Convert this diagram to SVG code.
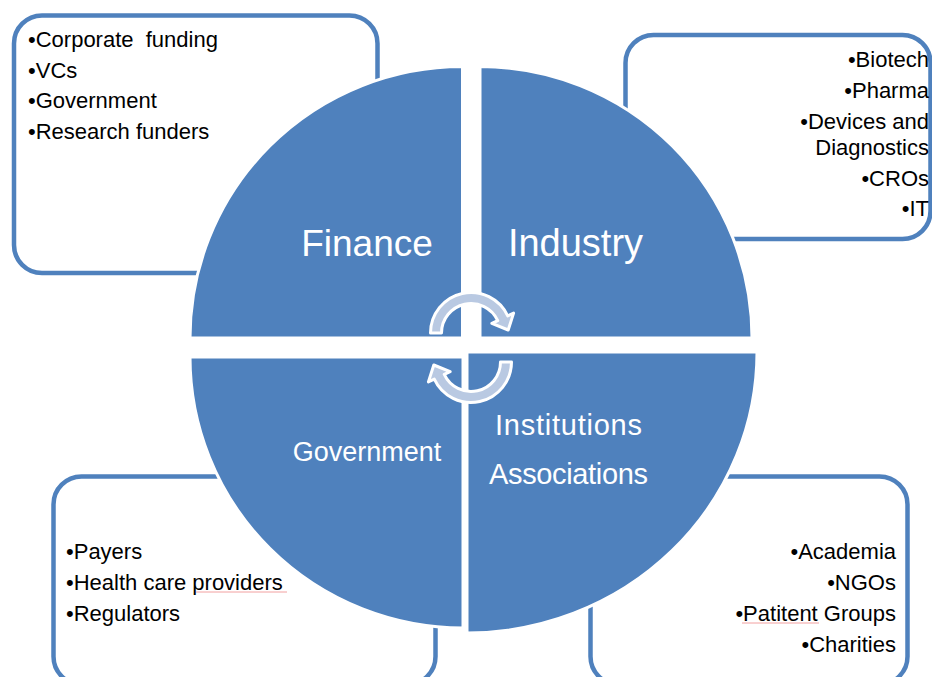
<svg xmlns="http://www.w3.org/2000/svg" width="932" height="677" viewBox="0 0 932 677">
<style>
  .box { fill: #ffffff; stroke: #4f81bd; stroke-width: 4.5; }
  .quad { fill: #4f81bd; stroke: #ffffff; stroke-width: 3; }
  .item { font-family: "Liberation Sans", Arial, sans-serif; font-size: 22px; fill: #000000; }
  .end { text-anchor: end; }
  .lbl { font-family: "Liberation Sans", Arial, sans-serif; fill: #ffffff; text-anchor: middle; }
  .arrow { fill: #b9c9e2; stroke: #ffffff; stroke-width: 3; stroke-linejoin: round; }
  .spell { fill: none; stroke: #f2a0a0; stroke-width: 1; }
</style>
<defs>
  <path id="circArrow" d="M 430.5 333 A 40.5 40.5 0 0 1 507.71 315.88 L 513.6 313.14 L 508.2 330 L 491.84 323.28 L 497.74 320.53 A 29.5 29.5 0 0 0 441.5 333 Z"/>
</defs>
<rect width="932" height="677" fill="#ffffff"/>

<g id="box-finance">
  <rect class="box" x="14" y="15.5" width="363.5" height="257.5" rx="28"/>
  <text class="item" x="28" y="47">•Corporate&#160; funding</text>
  <text class="item" x="28" y="78">•VCs</text>
  <text class="item" x="28" y="108">•Government</text>
  <text class="item" x="28" y="139">•Research funders</text>
</g>
<g id="box-industry">
  <rect class="box" x="625.5" y="35" width="305" height="204" rx="28"/>
  <text class="item end" x="929" y="67">•Biotech</text>
  <text class="item end" x="929" y="98">•Pharma</text>
  <text class="item end" x="929" y="129">•Devices and</text>
  <text class="item end" x="929" y="155">Diagnostics</text>
  <text class="item end" x="929" y="186">•CROs</text>
  <text class="item end" x="929" y="216">•IT</text>
</g>
<g id="box-government">
  <rect class="box" x="53.5" y="476.5" width="382" height="208" rx="28"/>
  <text class="item" x="66" y="559">•Payers</text>
  <text class="item" x="66" y="590">•Health care providers</text>
  <text class="item" x="66" y="621">•Regulators</text>
  <path class="spell" d="M196 592 L287 592"/>
</g>
<g id="box-institutions">
  <rect class="box" x="590.5" y="476.5" width="317" height="208" rx="28"/>
  <text class="item end" x="896" y="559">•Academia</text>
  <text class="item end" x="896" y="590">•NGOs</text>
  <text class="item end" x="896" y="621">•Patitent Groups</text>
  <text class="item end" x="896" y="652">•Charities</text>
  <path class="spell" d="M742 623 L819 623"/>
</g>

<g id="node-finance">
  <path class="quad" d="M 462.5 338 L 190 338 A 272.5 271.5 0 0 1 462.5 66.5 Z"/>
  <text class="lbl" x="367" y="256" font-size="37">Finance</text>
</g>
<g id="node-industry">
  <path class="quad" d="M 480 338 L 480 66.5 A 272 271.5 0 0 1 752 338 Z"/>
  <text class="lbl" x="575.5" y="256" font-size="38">Industry</text>
</g>
<g id="node-government">
  <path class="quad" d="M 463 357 L 463 628 A 273 271 0 0 1 190 357 Z"/>
  <text class="lbl" x="367" y="461" font-size="27">Government</text>
</g>
<g id="node-institutions">
  <path class="quad" d="M 467 352 L 757 352 A 290 281 0 0 1 467 633 Z"/>
  <text class="lbl" x="568.5" y="435" font-size="29" textLength="147">Institutions</text>
  <text class="lbl" x="568.5" y="484" font-size="29" textLength="159">Associations</text>
</g>

<g id="connectors">
  <use href="#circArrow" class="arrow"/>
  <use href="#circArrow" class="arrow" transform="rotate(180 471 347.5)"/>
</g>
</svg>
